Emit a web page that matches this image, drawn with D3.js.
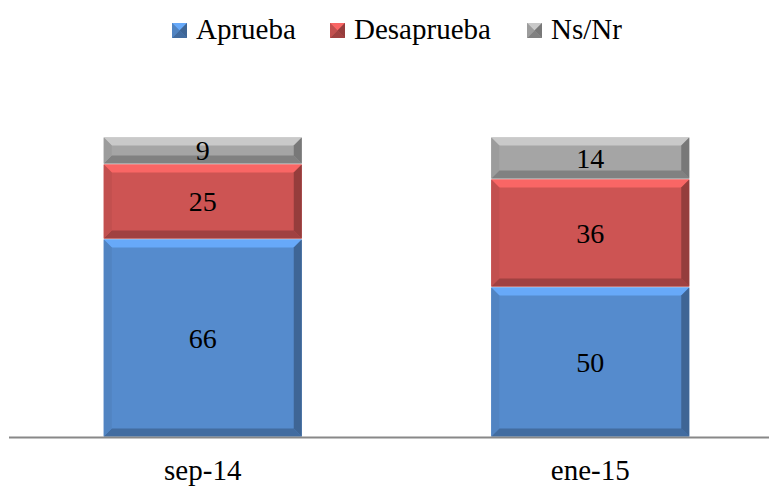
<!DOCTYPE html>
<html>
<head>
<meta charset="utf-8">
<script src="https://cdn.jsdelivr.net/npm/d3@7"></script>
<style>
  body { margin: 0; background: #fff; }
  svg text { font-family: "Liberation Serif", "Times New Roman", "DejaVu Serif", serif !important; }
</style>
</head>
<body>
<div id="chart"></div>
<script>
var categories = ["sep-14", "ene-15"];
var series = ["Aprueba", "Desaprueba", "Ns/Nr"];
var aprueba = [66, 50];
var desaprueba = [25, 36];
var nsnr = [9, 14];
var colors = ["#558bcd", "#cd5453", "#a5a5a5"];

var width = 769, height = 488;
var font = "\"Liberation Serif\", \"Times New Roman\", \"DejaVu Serif\", serif";
var svg = d3.select("#chart").append("svg")
    .attr("width", width)
    .attr("height", height)
    .style("display", "block");

var rows = categories.map(function(c, i) {
    return { cat: c, Aprueba: aprueba[i], Desaprueba: desaprueba[i], "Ns/Nr": nsnr[i] };
});
var stacked = d3.stack().keys(series)(rows);

var x = d3.scaleBand()
    .domain(categories)
    .range([9, 784])
    .paddingInner(0.489)
    .paddingOuter(0.2445);

var y = d3.scaleLinear()
    .domain([0, 100])
    .range([437, 137]);

// draws a box with a bevelled edge
function bevel(g, x0, y0, w, h, b, col) {
    var c = d3.color(col);
    b = Math.min(b, h / 2, w / 2);
    g.append("rect")
        .attr("x", x0).attr("y", y0).attr("width", w).attr("height", h)
        .attr("fill", col);
    var sides = [
        [[x0, y0], [x0 + w, y0], [x0 + w - b, y0 + b], [x0 + b, y0 + b], c.brighter(0.55)],
        [[x0, y0 + h], [x0 + w, y0 + h], [x0 + w - b, y0 + h - b], [x0 + b, y0 + h - b], c.darker(0.7)],
        [[x0, y0], [x0 + b, y0 + b], [x0 + b, y0 + h - b], [x0, y0 + h], c.darker(0.15)],
        [[x0 + w, y0], [x0 + w - b, y0 + b], [x0 + w - b, y0 + h - b], [x0 + w, y0 + h], c.darker(0.9)]
    ];
    sides.forEach(function(s) {
        g.append("polygon")
            .attr("points", s.slice(0, 4).map(function(p) { return p.join(","); }).join(" "))
            .attr("fill", s[4].formatHex());
    });
}

var layers = svg.selectAll("g.layer")
    .data(stacked)
    .enter().append("g")
    .attr("class", "layer");

layers.each(function(layer, li) {
    var g = d3.select(this);
    layer.forEach(function(d) {
        var top = y(d[1]), bot = y(d[0]);
        bevel(g, x(d.data.cat), top + 0.5, x.bandwidth(), bot - top - 1, 8, colors[li]);
        g.append("text")
            .attr("x", x(d.data.cat) + x.bandwidth() / 2)
            .attr("y", (top + bot) / 2)
            .attr("dy", "0.35em")
            .attr("text-anchor", "middle")
            .style("font-family", font)
            .attr("font-size", 28)
            .attr("fill", "#000")
            .text(d[1] - d[0]);
    });
});

// axis line
svg.append("line")
    .attr("x1", 9).attr("x2", width)
    .attr("y1", 437.5).attr("y2", 437.5)
    .attr("stroke", "#888")
    .attr("stroke-width", 2);

svg.selectAll("text.cat")
    .data(categories)
    .enter().append("text")
    .attr("class", "cat")
    .attr("x", function(d) { return x(d) + x.bandwidth() / 2; })
    .attr("y", 480)
    .attr("text-anchor", "middle")
    .style("font-family", font)
    .attr("font-size", 29)
    .text(function(d) { return d; });

// legend
var legendX = [172, 330, 527];
var legend = svg.selectAll("g.legend")
    .data(series)
    .enter().append("g")
    .attr("class", "legend");

legend.each(function(s, i) {
    var g = d3.select(this);
    bevel(g, legendX[i], 23, 15, 15, 7.5, colors[i]);
    g.append("text")
        .attr("x", legendX[i] + 24)
        .attr("y", 39)
        .style("font-family", font)
        .attr("font-size", 29)
        .text(s);
});
</script>
</body>
</html>
